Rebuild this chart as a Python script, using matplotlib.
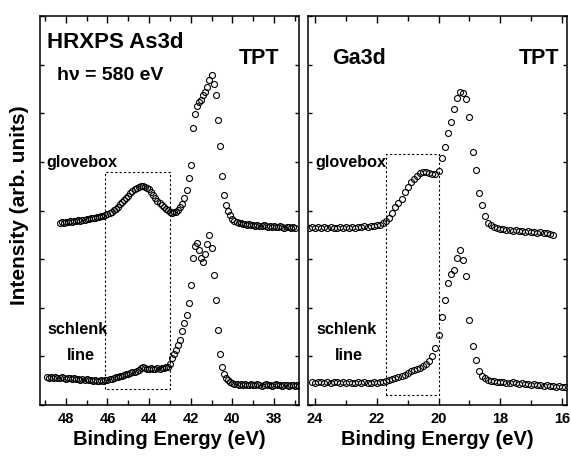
import numpy as np
import matplotlib
matplotlib.use('Agg')
import matplotlib.pyplot as plt
from matplotlib.ticker import MultipleLocator

plt.rcParams['font.family'] = ['Liberation Sans', 'DejaVu Sans']
plt.rcParams['font.weight'] = 'bold'

# As3d, binding energy grids (0.1 eV steps, high -> low)
as_glove_e = np.round(np.arange(48.3, 36.95, -0.1), 2)
as_glove = [182, 183, 182, 183, 183, 184, 183, 184, 184, 185, 184, 185, 185, 186, 186, 187, 187, 187, 188, 188, 189, 189, 190, 191,
            192, 193, 195, 196, 198, 201, 203, 205, 207, 209,
            212, 214, 216, 217, 218, 219, 219, 218, 217, 216,
            213, 210, 207, 204, 202, 200, 198, 196, 195, 193,
            192, 193, 193, 195, 198, 201, 207, 215, 227, 240,
            277, 291, 299, 303, 305, 310, 313, 318, 325, 330,
            321, 310, 285, 259, 229, 210, 200, 194, 190, 186,
            184, 183, 182, 182, 181, 181, 180, 181, 180, 180,
            179, 180, 179, 179, 180, 179, 178, 179, 178, 179,
            178, 178, 179, 178, 177, 178, 178, 177, 178, 177]

as_schlenk_e = np.round(np.arange(48.9, 36.75, -0.1), 2)
as_schlenk = [28, 27, 28, 27, 28, 27, 27, 28, 27, 26,
              27, 27, 26, 27, 26, 26, 25, 26, 25, 26,
              25, 25, 24, 25, 24, 24, 25, 24, 25, 25,
              26, 26, 27, 28, 28, 29, 29, 30, 31, 31,
              32, 33, 33, 34, 35, 37, 38, 37, 36, 36,
              37, 36, 36, 37, 36, 37, 37, 38, 38, 41,
              47, 51, 55, 60, 65, 74, 82, 90, 102, 120,
              147, 159, 162, 155, 147, 143, 151, 161, 170, 157,
              130, 105, 75, 51, 38, 31, 27, 25, 23, 22,
              21, 21, 20, 21, 20, 21, 20, 20, 21, 20, 20, 21, 20, 19, 20, 21,
              20, 20, 19, 20, 21, 20, 20, 19, 20, 20, 19, 20, 20, 19, 20, 19]

# Ga3d
ga_glove_e = np.round(np.arange(24.2, 16.25, -0.1), 2)
ga_glove = [177, 178, 177, 178, 177, 178, 177, 178, 177, 177,
            178, 177, 178, 177, 178, 177, 178, 178, 179, 178,
            179, 179, 180, 180, 182, 184, 187, 192, 198, 202,
            206, 213, 218, 223, 226, 229, 232, 233, 233, 232,
            231, 231, 234, 247, 258, 272, 283, 296, 307, 313,
            312, 306, 288, 253, 235, 212, 200, 189, 182, 180,
            178, 177, 176, 176, 175, 175, 174, 175, 174, 174,
            173, 174, 173, 173, 172, 173, 172, 172, 171, 170]

ga_schlenk_e = np.round(np.arange(24.1, 15.85, -0.1), 2)
ga_schlenk = [23, 22, 23, 23, 22, 23, 22, 23, 23, 22, 23, 22, 23, 22, 22, 23, 22, 23, 22, 22, 23,
              22, 23, 23, 24, 25, 26, 27, 28, 29, 30, 32, 34, 35, 36, 37, 39, 41, 44, 49, 57,
              70, 88, 105, 122, 131, 135, 147, 155, 145, 129, 85, 59, 45, 34, 29, 27, 25, 24, 24, 23, 23,
              23, 22, 22, 23, 22, 21, 22, 21, 21, 20, 21, 20, 20, 19, 20, 19, 19, 18, 19, 18, 18]

# dashed boxes (energy range, intensity range)
as_box = [46.1, 43.0, 16, 233]
ga_box = [21.7, 20.0, 10, 251]

fig = plt.figure(figsize=(5.71, 4.57), dpi=100)
ax1 = fig.add_axes([40/571, 52/457, 259/571, 389/457])
ax2 = fig.add_axes([308/571, 52/457, 259/571, 389/457])

mk = dict(ls='none', marker='o', ms=4.3, mfc='none', mec='black', mew=0.8)


def style(ax, xlim, ticks):
    ax.set_xlim(*xlim)
    ax.set_ylim(0, 389)
    ax.set_xticks(ticks)
    ax.xaxis.set_minor_locator(MultipleLocator(1))
    ax.yaxis.set_major_locator(MultipleLocator(48.6))
    ax.set_yticklabels([])
    ax.tick_params(axis='both', which='both', direction='in', top=True, right=True, width=1.0)
    ax.tick_params(axis='x', which='major', length=5, pad=5, labelsize=10.5)
    ax.tick_params(axis='x', which='minor', length=3.5)
    ax.tick_params(axis='y', which='major', length=3)
    for lab in ax.get_xticklabels():
        lab.set_fontweight('bold')
    for sp in ax.spines.values():
        sp.set_linewidth(1.1)
    ax.set_xlabel('Binding Energy (eV)', fontsize=14.5, fontweight='bold', labelpad=3)


def box(ax, b):
    ax.plot([b[0], b[0], b[1], b[1], b[0]], [b[2], b[3], b[3], b[2], b[2]],
            color='black', ls=(0, (2, 2)), lw=0.8)


ax1.plot(as_glove_e, as_glove, **mk)
ax1.plot(as_schlenk_e, as_schlenk, **mk)
box(ax1, as_box)
style(ax1, (49.24, 36.8), [48, 46, 44, 42, 40, 38])

ax2.plot(ga_glove_e, ga_glove, **mk)
ax2.plot(ga_schlenk_e, ga_schlenk, **mk)
box(ax2, ga_box)
style(ax2, (24.23, 15.84), [24, 22, 20, 18, 16])

ax1.text(48.91, 362, 'HRXPS As3d', fontsize=16, fontweight='bold', va='center')
ax1.text(48.43, 330, 'h\u03bd = 580 eV', fontsize=14, fontweight='bold', va='center')
ax1.text(39.68, 347, 'TPT', fontsize=15.5, fontweight='bold', va='center')
ax1.text(48.91, 243, 'glovebox', fontsize=11.7, fontweight='bold', va='center')
ax1.text(48.87, 76, 'schlenk', fontsize=11.7, fontweight='bold', va='center')
ax1.text(47.95, 50, 'line', fontsize=11.7, fontweight='bold', va='center')

ax2.text(23.45, 347, 'Ga3d', fontsize=15.5, fontweight='bold', va='center')
ax2.text(17.39, 347, 'TPT', fontsize=15.5, fontweight='bold', va='center')
ax2.text(24.0, 243, 'glovebox', fontsize=11.7, fontweight='bold', va='center')
ax2.text(23.94, 76, 'schlenk', fontsize=11.7, fontweight='bold', va='center')
ax2.text(23.35, 50, 'line', fontsize=11.7, fontweight='bold', va='center')

fig.text(20/571, 1 - 205/457, 'Intensity (arb. units)', rotation=90, fontsize=15,
         fontweight='bold', ha='center', va='center')

fig.savefig('out.png', dpi=100)
